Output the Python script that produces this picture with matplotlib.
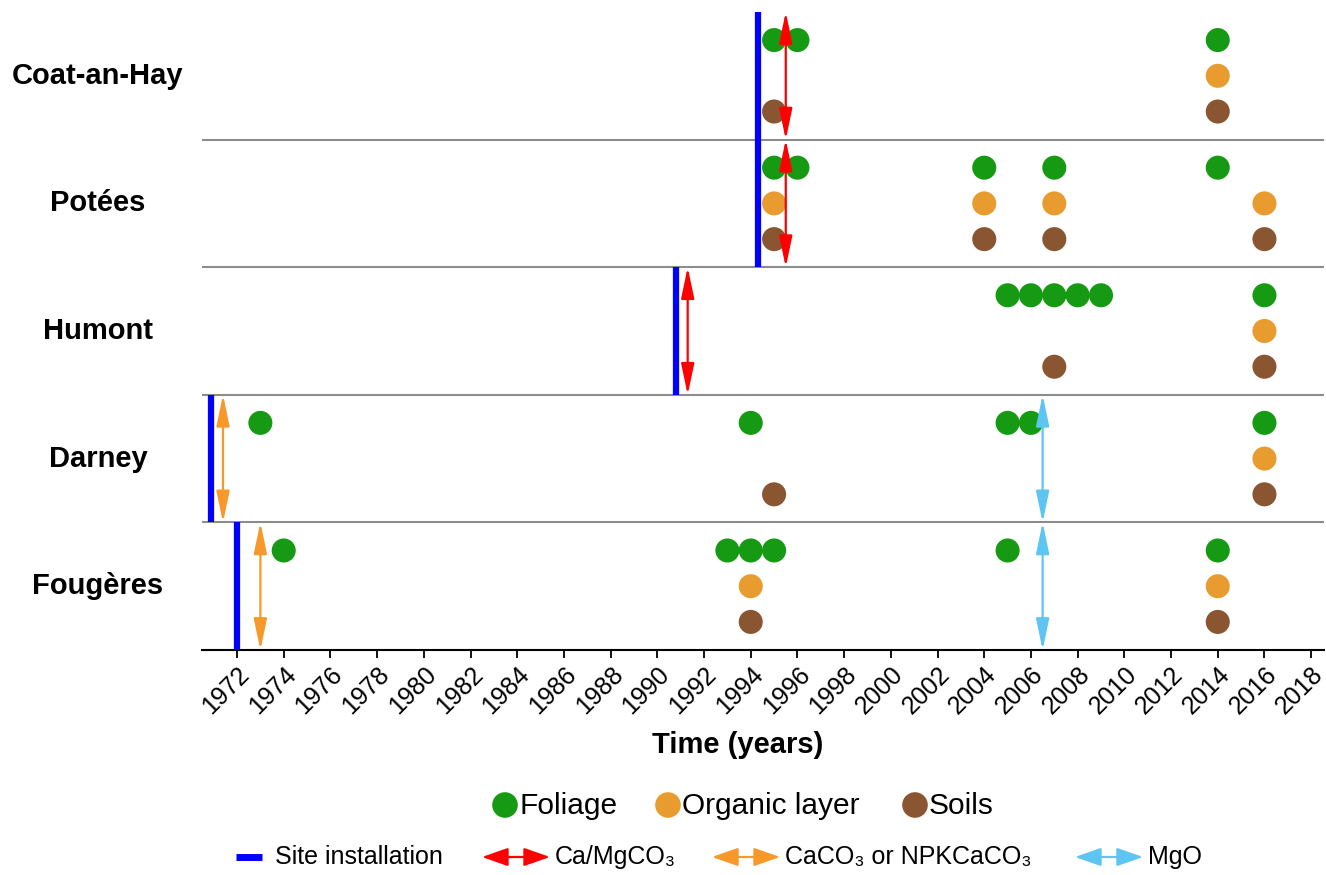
import matplotlib
matplotlib.use("Agg")
import matplotlib.pyplot as plt
import matplotlib.transforms as mtransforms

plt.rcParams['font.family'] = ['Liberation Sans', 'DejaVu Sans']

# -----------------------------
# Data
# -----------------------------
sites = ["Fougères", "Darney", "Humont", "Potées", "Coat-an-Hay"]

foliage = {
    "Coat-an-Hay": [1995, 1996, 2014],
    "Potées": [1995, 1996, 2004, 2007, 2014],
    "Humont": [2005, 2006, 2007, 2008, 2009, 2016],
    "Darney": [1973, 1994, 2005, 2006, 2016],
    "Fougères": [1974, 1993, 1994, 1995, 2005, 2014],
}
organic = {
    "Coat-an-Hay": [2014],
    "Potées": [1995, 2004, 2007, 2016],
    "Humont": [2016],
    "Darney": [2016],
    "Fougères": [1994, 2014],
}
soils = {
    "Coat-an-Hay": [1995, 2014],
    "Potées": [1995, 2004, 2007, 2016],
    "Humont": [2007, 2016],
    "Darney": [1995, 2016],
    "Fougères": [1994, 2014],
}

installation = {"Coat-an-Hay": 1994.3, "Potées": 1994.3, "Humont": 1990.8,
                "Darney": 1970.9, "Fougères": 1972.0}
camgco3 = {"Coat-an-Hay": 1995.5, "Potées": 1995.5, "Humont": 1991.3}
caco3 = {"Darney": 1971.4, "Fougères": 1973.0}
mgo = {"Darney": 2006.5, "Fougères": 2006.5}

years = list(range(1972, 2019, 2))

# -----------------------------
# Styles
# -----------------------------
c_fol = "#179a13"
c_org = "#e89b2f"
c_soil = "#8a5631"
c_inst = "#0000ff"
c_red = "#ff0000"
c_orange = "#f7982a"
c_mgo = "#5ec5f2"

lev = {"fol": 0.78, "org": 0.50, "soil": 0.22}
msize = 300

W, H = 1326, 875
fig = plt.figure(figsize=(W / 100, H / 100), dpi=100)
ax = fig.add_axes([202 / W, 1 - 650 / H, (1324 - 202) / W, (650 - 12) / H])


def arrow(a, xy0, xy1, color, hw=0.2, hl=0.95):
    a.annotate("", xy=xy1, xytext=xy0,
               arrowprops=dict(arrowstyle=f"<|-|>,head_length={hl},head_width={hw}",
                               color=color, lw=1.6, mutation_scale=20,
                               shrinkA=0, shrinkB=0), zorder=5)


for i, s in enumerate(sites):
    ax.scatter(foliage[s], [i + lev["fol"]] * len(foliage[s]), s=msize, color=c_fol,
               edgecolors="none", zorder=3)
    ax.scatter(organic[s], [i + lev["org"]] * len(organic[s]), s=msize, color=c_org,
               edgecolors="none", zorder=3)
    ax.scatter(soils[s], [i + lev["soil"]] * len(soils[s]), s=msize, color=c_soil,
               edgecolors="none", zorder=3)
    ax.vlines(installation[s], i, i + 1, color=c_inst, lw=4.5, zorder=4)
    if s in camgco3:
        arrow(ax, (camgco3[s], i), (camgco3[s], i + 1), c_red)
    if s in caco3:
        arrow(ax, (caco3[s], i), (caco3[s], i + 1), c_orange)
    if s in mgo:
        arrow(ax, (mgo[s], i), (mgo[s], i + 1), c_mgo)

for k in range(1, len(sites)):
    ax.axhline(k, color="#8c8c8c", lw=1.5, zorder=1)

ax.set_xlim(1970.5, 2018.55)
ax.set_ylim(0, len(sites))
ax.set_xticks(years)
ax.set_xticklabels([str(y) for y in years], rotation=45, ha="right",
                   rotation_mode="anchor", fontsize=18)
ax.tick_params(axis="x", direction="out", length=6, width=1.3, pad=3)
ax.set_yticks([])
for sp in ["top", "right", "left"]:
    ax.spines[sp].set_visible(False)
ax.spines["bottom"].set_linewidth(1.5)

# site names
tr = mtransforms.blended_transform_factory(fig.transFigure, ax.transData)
for i, s in enumerate(sites):
    ax.text(98 / W, i + 0.5, s, transform=tr, ha="center", va="center",
            fontsize=21, fontweight="bold")

fig.text(738 / W, 1 - 745 / H, "Time (years)", ha="center", va="center",
         fontsize=21, fontweight="bold")

# -----------------------------
# Legend (pixel coordinates in an overlay axes)
# -----------------------------
lg = fig.add_axes([0, 0, 1, 1], zorder=-1)
lg.set_xlim(0, W)
lg.set_ylim(H, 0)
lg.axis("off")

y1, y2 = 805, 857
for x, c, t in [(505, c_fol, "Foliage"), (668, c_org, "Organic layer"),
                (915, c_soil, "Soils")]:
    lg.scatter([x], [y1], s=340, color=c, edgecolors="none")
    lg.text(x + 14, y1 + 1, t, ha="left", va="center", fontsize=21.5)

lg.plot([236, 262], [y2, y2], color=c_inst, lw=5, solid_capstyle="butt")
lg.text(275, y2, "Site installation", ha="left", va="center", fontsize=18)
for x, c, t in [(482, c_red, "Ca/MgCO₃"), (712, c_orange, "CaCO₃ or NPKCaCO₃"),
                (1075, c_mgo, "MgO")]:
    arrow(lg, (x, y2), (x + 68, y2), c, hw=0.28, hl=0.8)
    lg.text(x + 73, y2, t, ha="left", va="center", fontsize=18)

fig.savefig("out.png", dpi=100)
